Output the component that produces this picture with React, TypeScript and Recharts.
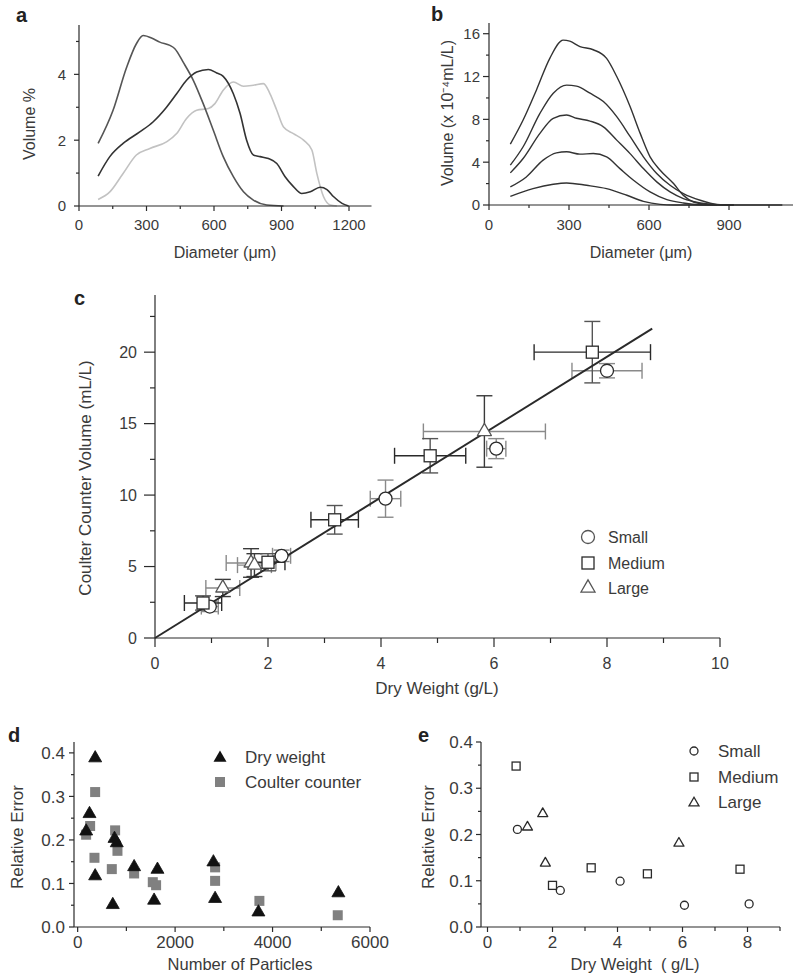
import React from 'react';
import { LineChart, Line, XAxis, YAxis, ScatterChart, Scatter, ErrorBar } from 'recharts';

const INK = '#2a2a2a';
const TXT = '#3a3a3a';
const FONT = '"Liberation Sans", Arial, Helvetica, sans-serif';

// ---- panel a: volume % vs diameter (three size classes)
const curveA1 = [
  [85, 1.9], [151, 2.9], [211, 4.2], [255, 4.93], [285, 5.18], [330, 5.08], [359, 4.98], [404, 4.88],
  [426, 4.78], [463, 4.37], [508, 3.82], [552, 3.11], [597, 2.3], [641, 1.5], [686, 0.89], [731, 0.43],
  [775, 0.18], [835, 0.03], [909, 0],
].map(([d, v]) => ({ d, v }));
const curveA2 = [
  [85, 0.91], [137, 1.5], [196, 1.9], [270, 2.25], [330, 2.56], [389, 3.0], [434, 3.41], [478, 3.82],
  [523, 4.07], [575, 4.15], [612, 4.04], [641, 3.94], [686, 3.41], [716, 2.81], [745, 2.0], [775, 1.55],
  [805, 1.5], [842, 1.44], [879, 1.29], [916, 0.89], [953, 0.59], [990, 0.38], [1028, 0.43], [1072, 0.57],
  [1102, 0.5], [1132, 0.28], [1169, 0.08], [1198, 0],
].map(([d, v]) => ({ d, v }));
const curveA3 = [
  [85, 0.2], [137, 0.43], [196, 0.99], [255, 1.55], [315, 1.75], [389, 1.95], [434, 2.2], [478, 2.66],
  [523, 2.91], [575, 2.96], [604, 3.11], [641, 3.52], [686, 3.77], [731, 3.64], [775, 3.67], [820, 3.72],
  [849, 3.41], [879, 2.91], [909, 2.4], [953, 2.2], [998, 2.0], [1035, 1.7], [1057, 0.99], [1087, 0.28],
  [1117, 0.03], [1146, 0],
].map(([d, v]) => ({ d, v }));

// ---- panel b: volume (x1e-4 mL/L) vs diameter, five concentrations
const curveB1 = [
  [80, 5.69], [128, 7.94], [178, 10.75], [228, 13.7], [278, 15.4], [303, 15.3], [341, 14.8], [391, 14.5],
  [441, 13.7], [479, 12.0], [529, 9.2], [567, 6.69], [604, 4.5], [642, 3.25], [692, 2.0], [729, 0.9],
  [767, 0.28], [817, 0.06], [905, 0],
].map(([d, v]) => ({ d, v }));
const curveB2 = [
  [80, 3.72], [128, 5.44], [191, 8.56], [241, 10.44], [291, 11.2], [328, 11.1], [379, 10.44], [429, 9.66],
  [479, 8.25], [529, 6.4], [579, 4.5], [629, 2.94], [679, 1.84], [729, 1.06], [792, 0.44], [855, 0.06], [918, 0],
].map(([d, v]) => ({ d, v }));
const curveB3 = [
  [80, 3.0], [128, 4.34], [191, 6.69], [241, 8.1], [291, 8.4], [328, 8.1], [379, 7.84], [429, 7.3],
  [479, 6.06], [529, 4.8], [579, 3.4], [629, 2.16], [679, 1.22], [729, 0.6], [792, 0.19], [855, 0.03], [918, 0],
].map(([d, v]) => ({ d, v }));
const curveB4 = [
  [80, 1.69], [140, 2.62], [203, 4.19], [253, 4.87], [291, 4.97], [341, 4.75], [391, 4.81], [441, 4.5],
  [491, 3.4], [542, 2.31], [604, 1.22], [667, 0.5], [729, 0.19], [792, 0.03], [855, 0],
].map(([d, v]) => ({ d, v }));
const curveB5 = [
  [80, 0.81], [165, 1.53], [241, 1.94], [291, 2.06], [366, 1.84], [441, 1.53], [517, 0.91], [579, 0.34],
  [642, 0.06], [692, 0], [900, 0], [1100, 0],
].map(([d, v]) => ({ d, v }));

// ---- panel c: coulter counter volume vs dry weight (x, y, x-error, y-error)
const smallC = [
  { x: 0.97, y: 2.2, ex: 0.15, ey: 0.35 },
  { x: 2.24, y: 5.75, ex: 0.16, ey: 0.4 },
  { x: 4.08, y: 9.75, ex: 0.27, ey: 1.3 },
  { x: 6.04, y: 13.25, ex: 0.17, ey: 0.7 },
  { x: 8.0, y: 18.7, ex: 0.62, ey: 0.5 },
];
const mediumC = [
  { x: 0.85, y: 2.45, ex: 0.33, ey: 0.5 },
  { x: 2.0, y: 5.3, ex: 0.3, ey: 0.6 },
  { x: 3.18, y: 8.27, ex: 0.42, ey: 1.0 },
  { x: 4.87, y: 12.75, ex: 0.63, ey: 1.2 },
  { x: 7.74, y: 20.0, ex: 1.03, ey: 2.15 },
];
const largeC = [
  { x: 1.2, y: 3.5, ex: 0.3, ey: 0.6 },
  { x: 1.7, y: 5.25, ex: 0.44, ey: 1.0 },
  { x: 1.76, y: 5.1, ex: 0.3, ey: 0.8 },
  { x: 5.83, y: 14.45, ex: 1.08, ey: 2.5 },
];
const fitC = [{ x: 0, y: 0 }, { x: 8.8, y: 21.65 }];

// ---- panel d: relative error vs number of particles
const dryWeightD = [
  [360, 0.388], [243, 0.26], [175, 0.22], [359, 0.117], [756, 0.203], [803, 0.193], [721, 0.051],
  [1159, 0.138], [1638, 0.132], [1569, 0.061], [2786, 0.149], [2821, 0.065], [3710, 0.034], [5351, 0.078],
].map(([x, y]) => ({ x, y }));
const coulterD = [
  [359, 0.31], [256, 0.232], [174, 0.212], [345, 0.159], [701, 0.133], [769, 0.222], [817, 0.175],
  [1159, 0.123], [1542, 0.103], [1610, 0.096], [2821, 0.137], [2821, 0.106], [3730, 0.06], [5338, 0.027],
].map(([x, y]) => ({ x, y }));

// ---- panel e: relative error vs dry weight
const smallE = [[0.92, 0.211], [2.24, 0.079], [4.08, 0.099], [6.06, 0.047], [8.05, 0.05]].map(([x, y]) => ({ x, y }));
const mediumE = [[0.88, 0.348], [2.0, 0.09], [3.19, 0.128], [4.92, 0.115], [7.77, 0.125]].map(([x, y]) => ({ x, y }));
const largeE = [[1.23, 0.216], [1.7, 0.245], [1.78, 0.138], [5.89, 0.181]].map(([x, y]) => ({ x, y }));

// ---- axis ticks
const ticksAx = [0, 150, 300, 450, 600, 750, 900, 1050, 1200];
const majorAx = [0, 300, 600, 900, 1200];
const ticksAy = [0, 1, 2, 3, 4, 5];
const majorAy = [0, 2, 4];
const ticksBx = [0, 150, 300, 450, 600, 750, 900, 1050];
const majorBx = [0, 300, 600, 900];
const ticksBy = [0, 2, 4, 6, 8, 10, 12, 14, 16];
const majorBy = [0, 4, 8, 12, 16];
const ticksCx = [0, 1, 2, 3, 4, 5, 6, 7, 8, 9, 10];
const majorCx = [0, 2, 4, 6, 8, 10];
const ticksCy = [0, 2.5, 5, 7.5, 10, 12.5, 15, 17.5, 20, 22.5];
const majorCy = [0, 5, 10, 15, 20];
const ticksDx = [0, 1000, 2000, 3000, 4000, 5000, 6000];
const majorDx = [0, 2000, 4000, 6000];
const ticksErr = [0, 0.05, 0.1, 0.15, 0.2, 0.25, 0.3, 0.35, 0.4];
const majorErr = [0, 0.1, 0.2, 0.3, 0.4];
const ticksEx = [0, 1, 2, 3, 4, 5, 6, 7, 8, 9];
const majorEx = [0, 2, 4, 6, 8];

type TickCfg = { majors: number[]; major: number; minor: number; gap: number; size: number; fmt?: (v: number) => string };

const bottomTick = (c: TickCfg) => (p: any) => {
  const v = p.payload.value;
  const isMajor = c.majors.includes(v);
  return (
    <g>
      <line x1={p.x} x2={p.x} y1={p.y} y2={p.y + (isMajor ? c.major : c.minor)} stroke={INK} strokeWidth={1.2} />
      {isMajor && (
        <text x={p.x} y={p.y + c.gap} textAnchor="middle" fontSize={c.size} fill={TXT} fontFamily={FONT}>
          {c.fmt ? c.fmt(v) : v}
        </text>
      )}
    </g>
  );
};

const leftTick = (c: TickCfg) => (p: any) => {
  const v = p.payload.value;
  const isMajor = c.majors.includes(v);
  return (
    <g>
      <line x1={p.x - (isMajor ? c.major : c.minor)} x2={p.x} y1={p.y} y2={p.y} stroke={INK} strokeWidth={1.2} />
      {isMajor && (
        <text x={p.x - c.gap} y={p.y} dy="0.36em" textAnchor="end" fontSize={c.size} fill={TXT} fontFamily={FONT}>
          {c.fmt ? c.fmt(v) : v}
        </text>
      )}
    </g>
  );
};

const axisLine = { stroke: INK, strokeWidth: 1.2 };
const fmt1 = (v: number) => v.toFixed(1);

// marker shapes
const circleShape = (r: number) => (p: any) => (
  <circle cx={p.cx} cy={p.cy} r={r} fill="#fff" stroke={INK} strokeWidth={1.3} />
);
const squareShape = (s: number, fill = '#fff', stroke = INK) => (p: any) => (
  <rect x={p.cx - s / 2} y={p.cy - s / 2} width={s} height={s} fill={fill} stroke={stroke} strokeWidth={fill === '#fff' ? 1.3 : 0} />
);
const triPoints = (cx: number, cy: number, s: number) => {
  const h = (s * Math.sqrt(3)) / 2;
  return `${cx},${cy - (h * 2) / 3} ${cx - s / 2},${cy + h / 3} ${cx + s / 2},${cy + h / 3}`;
};
const triangleShape = (s: number, fill = '#fff', stroke = INK) => (p: any) => (
  <polygon points={triPoints(p.cx, p.cy, s)} fill={fill} stroke={stroke} strokeWidth={fill === '#fff' ? 1.3 : 0.8} strokeLinejoin="round" />
);
const noShape = () => <g />;

function Titles() {
  const t = { fontFamily: FONT, fill: TXT } as const;
  const b = { fontFamily: FONT, fill: '#222', fontWeight: 700, fontSize: 20 } as const;
  return (
    <svg width={800} height={977} style={{ position: 'absolute', left: 0, top: 0, pointerEvents: 'none' }}>
      <text x={16} y={22} {...b}>a</text>
      <text x={431} y={21} {...b}>b</text>
      <text x={74} y={305} {...b}>c</text>
      <text x={8} y={742} {...b}>d</text>
      <text x={418} y={742} {...b}>e</text>

      <text x={225} y={258} textAnchor="middle" fontSize={16} {...t}>Diameter (μm)</text>
      <text x={641} y={258} textAnchor="middle" fontSize={16} {...t}>Diameter (μm)</text>
      <text transform="translate(35,124) rotate(-90)" textAnchor="middle" fontSize={16} {...t}>Volume %</text>
      <text transform="translate(453,113) rotate(-90)" textAnchor="middle" fontSize={16} {...t}>Volume (x 10⁻⁴mL/L)</text>

      <text x={437} y={694} textAnchor="middle" fontSize={17} {...t}>Dry Weight (g/L)</text>
      <text transform="translate(91,478) rotate(-90)" textAnchor="middle" fontSize={17} {...t}>Coulter Counter Volume (mL/L)</text>

      <text x={240} y={970} textAnchor="middle" fontSize={16.5} {...t}>Number of Particles</text>
      <text transform="translate(23,837) rotate(-90)" textAnchor="middle" fontSize={17} {...t}>Relative Error</text>

      <text x={635} y={970} textAnchor="middle" fontSize={16.5} {...t} xmlSpace="preserve">Dry Weight  ( g/L)</text>
      <text transform="translate(434,837) rotate(-90)" textAnchor="middle" fontSize={17} {...t}>Relative Error</text>

      {/* legend c */}
      <circle cx={588} cy={537} r={6.5} fill="#fff" stroke="#555" strokeWidth={1.3} />
      <rect x={582} y={557} width={12} height={12} fill="#fff" stroke={INK} strokeWidth={1.3} />
      <polygon points={triPoints(588, 588, 14)} fill="#fff" stroke="#555" strokeWidth={1.3} />
      <text x={608} y={537} dy="0.36em" fontSize={16} {...t}>Small</text>
      <text x={608} y={563} dy="0.36em" fontSize={16} {...t}>Medium</text>
      <text x={608} y={588} dy="0.36em" fontSize={16} {...t}>Large</text>

      {/* legend d */}
      <polygon points={triPoints(220, 758, 13)} fill="#111" />
      <rect x={215} y={777} width={10} height={10} fill="#808080" />
      <text x={245} y={757} dy="0.36em" fontSize={17} {...t}>Dry weight</text>
      <text x={245} y={782} dy="0.36em" fontSize={17} {...t}>Coulter counter</text>

      {/* legend e */}
      <circle cx={694} cy={751} r={4} fill="#fff" stroke={INK} strokeWidth={1.3} />
      <rect x={690} y={773} width={8} height={8} fill="#fff" stroke={INK} strokeWidth={1.3} />
      <polygon points={triPoints(694, 803, 10)} fill="#fff" stroke={INK} strokeWidth={1.3} />
      <text x={718} y={751} dy="0.36em" fontSize={17} {...t}>Small</text>
      <text x={718} y={777} dy="0.36em" fontSize={17} {...t}>Medium</text>
      <text x={718} y={802} dy="0.36em" fontSize={17} {...t}>Large</text>
    </svg>
  );
}

export default function App() {
  return (
    <div style={{ position: 'relative', width: 800, height: 977, background: '#fff', fontFamily: FONT }}>
      <style>{'body{margin:0}'}</style>

      {/* a */}
      <div style={{ position: 'absolute', left: 0, top: 0 }}>
        <LineChart width={400} height={240} margin={{ top: 25, right: 28.5, bottom: 0, left: 29 }}>
          <XAxis type="number" dataKey="d" domain={[0, 1300]} ticks={ticksAx} interval={0} height={34}
            tickSize={0} tickMargin={0} tickLine={false} axisLine={axisLine}
            tick={bottomTick({ majors: majorAx, major: 5, minor: 3, gap: 24, size: 15 })} />
          <YAxis type="number" domain={[0, 5.5]} ticks={ticksAy} interval={0} width={50}
            tickSize={0} tickMargin={0} tickLine={false} axisLine={axisLine}
            tick={leftTick({ majors: majorAy, major: 5, minor: 3, gap: 13, size: 15 })} />
          <Line data={curveA3} dataKey="v" type="monotone" stroke="#c2c2c2" strokeWidth={1.6} dot={false} isAnimationActive={false} />
          <Line data={curveA1} dataKey="v" type="monotone" stroke="#555" strokeWidth={1.6} dot={false} isAnimationActive={false} />
          <Line data={curveA2} dataKey="v" type="monotone" stroke="#333" strokeWidth={1.6} dot={false} isAnimationActive={false} />
        </LineChart>
      </div>

      {/* b */}
      <div style={{ position: 'absolute', left: 400, top: 0 }}>
        <LineChart width={400} height={240} margin={{ top: 23, right: 7, bottom: 1, left: 39 }}>
          <XAxis type="number" dataKey="d" domain={[0, 1140]} ticks={ticksBx} interval={0} height={34}
            tickSize={0} tickMargin={0} tickLine={false} axisLine={axisLine}
            tick={bottomTick({ majors: majorBx, major: 5, minor: 3, gap: 25, size: 15 })} />
          <YAxis type="number" domain={[0, 17]} ticks={ticksBy} interval={0} width={50}
            tickSize={0} tickMargin={0} tickLine={false} axisLine={axisLine}
            tick={leftTick({ majors: majorBy, major: 6, minor: 3, gap: 9, size: 15 })} />
          {[curveB5, curveB4, curveB3, curveB2, curveB1].map((c, i) => (
            <Line key={i} data={c} dataKey="v" type="monotone" stroke="#333" strokeWidth={1.4} dot={false} isAnimationActive={false} />
          ))}
        </LineChart>
      </div>

      {/* c */}
      <div style={{ position: 'absolute', left: 0, top: 250 }}>
        <ScatterChart width={800} height={460} margin={{ top: 45, right: 80, bottom: 22, left: 75 }}>
          <XAxis type="number" dataKey="x" domain={[0, 10]} ticks={ticksCx} interval={0} height={50}
            tickSize={0} tickMargin={0} tickLine={false} axisLine={axisLine}
            tick={bottomTick({ majors: majorCx, major: 9, minor: 5, gap: 31, size: 16 })} />
          <YAxis type="number" dataKey="y" domain={[0, 24]} ticks={ticksCy} interval={0} width={80}
            tickSize={0} tickMargin={0} tickLine={false} axisLine={axisLine}
            tick={leftTick({ majors: majorCy, major: 11, minor: 5, gap: 18, size: 16 })} />
          <Scatter data={fitC} line={{ stroke: INK, strokeWidth: 2 }} shape={noShape} isAnimationActive={false} />
          <Scatter data={largeC} shape={triangleShape(14, '#fff', '#555')} isAnimationActive={false}>
            <ErrorBar dataKey="ex" direction="x" width={8} stroke="#8a8a8a" strokeWidth={1.4} />
            <ErrorBar dataKey="ey" direction="y" width={8} stroke="#3a3a3a" strokeWidth={1.4} />
          </Scatter>
          <Scatter data={smallC} shape={circleShape(6.5)} isAnimationActive={false}>
            <ErrorBar dataKey="ex" direction="x" width={8} stroke="#8a8a8a" strokeWidth={1.4} />
            <ErrorBar dataKey="ey" direction="y" width={8} stroke="#8a8a8a" strokeWidth={1.4} />
          </Scatter>
          <Scatter data={mediumC} shape={squareShape(12)} isAnimationActive={false}>
            <ErrorBar dataKey="ex" direction="x" width={8} stroke="#2a2a2a" strokeWidth={1.4} />
            <ErrorBar dataKey="ey" direction="y" width={8} stroke="#555" strokeWidth={1.4} />
          </Scatter>
        </ScatterChart>
      </div>

      {/* d */}
      <div style={{ position: 'absolute', left: 0, top: 710 }}>
        <ScatterChart width={400} height={267} margin={{ top: 32, right: 30, bottom: 5, left: 19 }}>
          <XAxis type="number" dataKey="x" domain={[-75, 6000]} ticks={ticksDx} interval={0} height={45}
            tickSize={0} tickMargin={0} tickLine={false} axisLine={axisLine}
            tick={bottomTick({ majors: majorDx, major: 5, minor: 4, gap: 21, size: 17 })} />
          <YAxis type="number" dataKey="y" domain={[0, 0.425]} ticks={ticksErr} interval={0} width={55}
            tickSize={0} tickMargin={0} tickLine={false} axisLine={axisLine}
            tick={leftTick({ majors: majorErr, major: 5, minor: 3, gap: 9, size: 17, fmt: fmt1 })} />
          <Scatter data={coulterD} shape={squareShape(10, '#808080', 'none')} isAnimationActive={false} />
          <Scatter data={dryWeightD} shape={triangleShape(13, '#111', '#111')} isAnimationActive={false} />
        </ScatterChart>
      </div>

      {/* e */}
      <div style={{ position: 'absolute', left: 400, top: 710 }}>
        <ScatterChart width={400} height={267} margin={{ top: 32, right: 20, bottom: 5, left: 26 }}>
          <XAxis type="number" dataKey="x" domain={[-0.2, 9]} ticks={ticksEx} interval={0} height={45}
            tickSize={0} tickMargin={0} tickLine={false} axisLine={axisLine}
            tick={bottomTick({ majors: majorEx, major: 5, minor: 4, gap: 21, size: 17 })} />
          <YAxis type="number" dataKey="y" domain={[0, 0.4]} ticks={ticksErr} interval={0} width={55}
            tickSize={0} tickMargin={0} tickLine={false} axisLine={axisLine}
            tick={leftTick({ majors: majorErr, major: 5, minor: 3, gap: 8, size: 17, fmt: fmt1 })} />
          <Scatter data={smallE} shape={circleShape(4)} isAnimationActive={false} />
          <Scatter data={mediumE} shape={squareShape(8)} isAnimationActive={false} />
          <Scatter data={largeE} shape={triangleShape(10)} isAnimationActive={false} />
        </ScatterChart>
      </div>

      <Titles />
    </div>
  );
}
